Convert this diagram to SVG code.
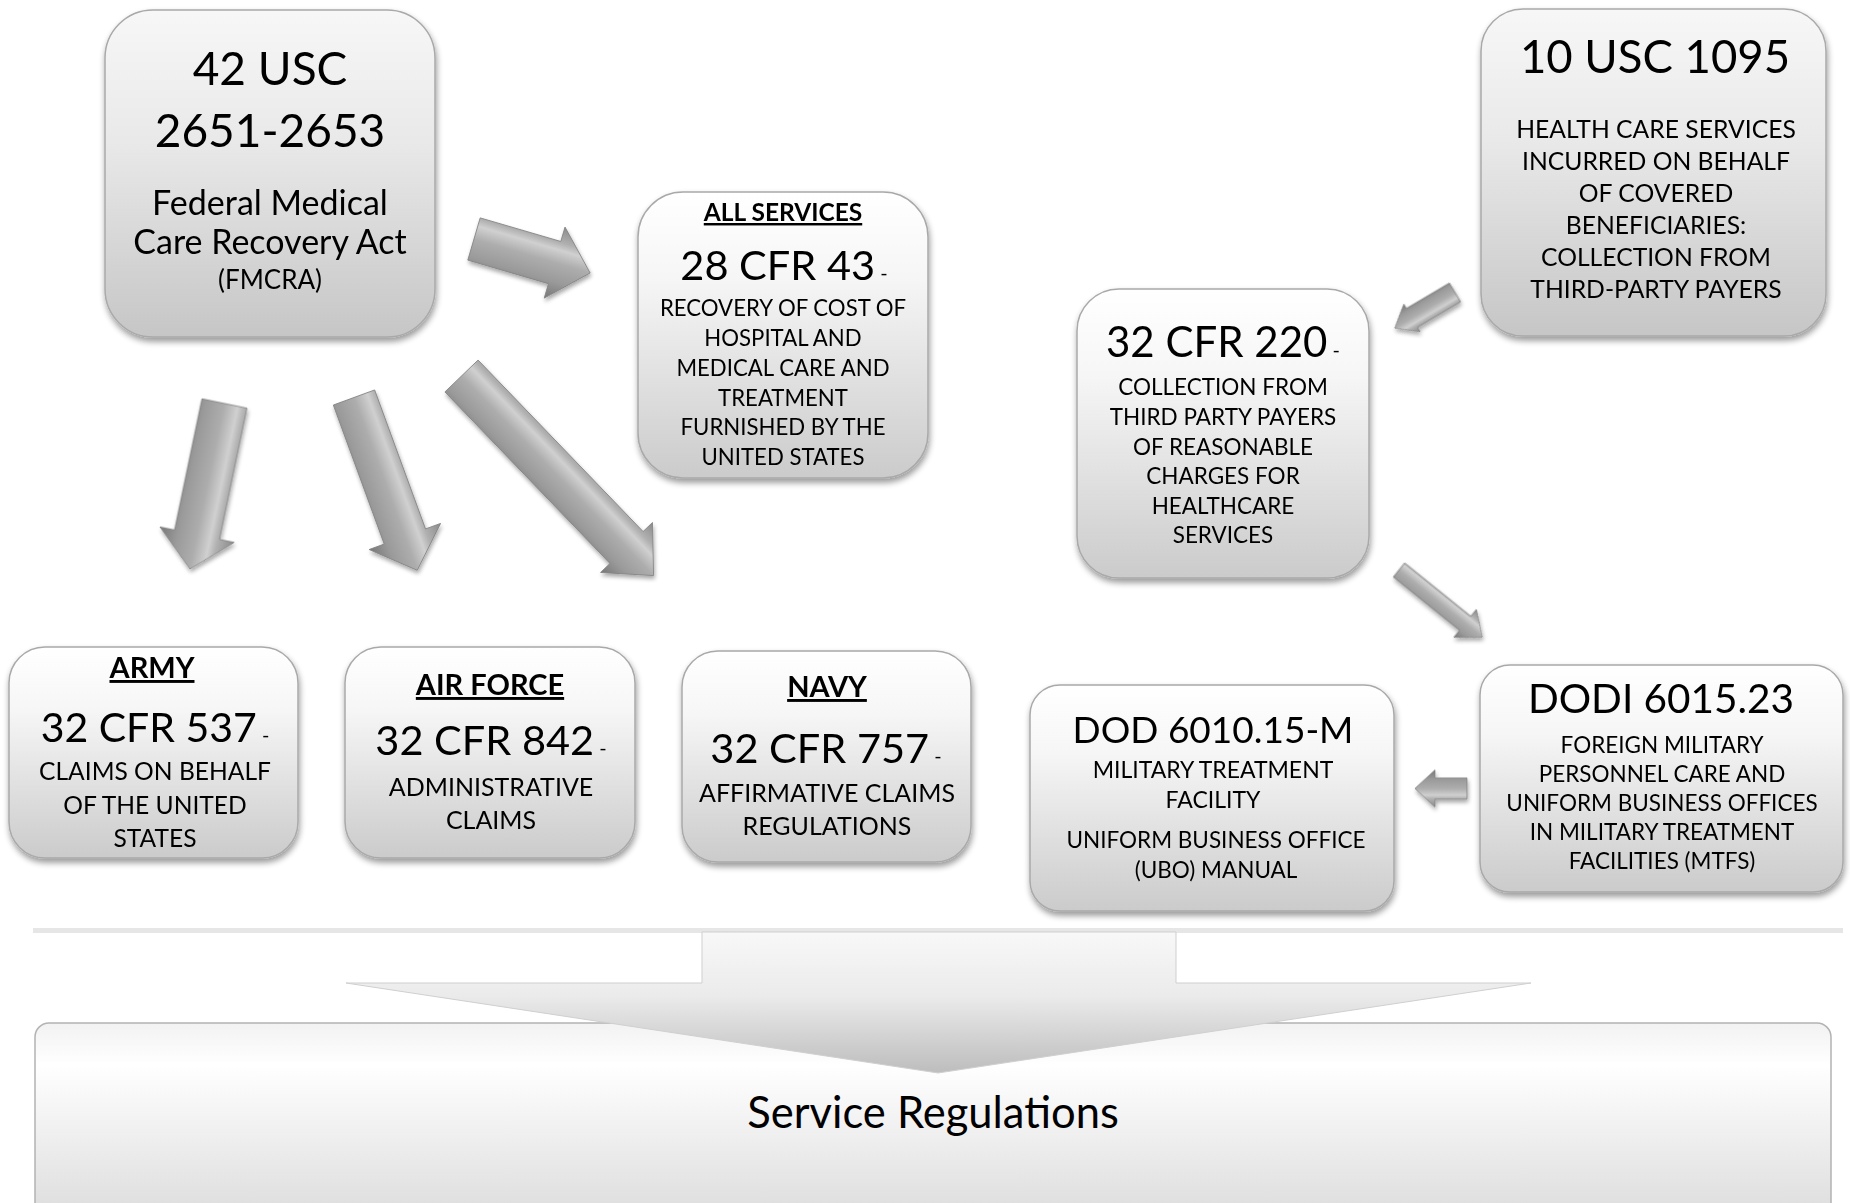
<svg xmlns="http://www.w3.org/2000/svg" width="1850" height="1203" viewBox="0 0 1850 1203">
<defs>
<linearGradient id="boxg" x1="0" y1="0" x2="0" y2="1">
<stop offset="0" stop-color="#ffffff"/>
<stop offset="0.3" stop-color="#f6f6f6"/>
<stop offset="1" stop-color="#cbcbcb"/>
</linearGradient>
<linearGradient id="boxg2" x1="0" y1="0" x2="0" y2="1">
<stop offset="0" stop-color="#f7f7f7"/>
<stop offset="0.4" stop-color="#e9e9e9"/>
<stop offset="1" stop-color="#c6c6c6"/>
</linearGradient>
<linearGradient id="arrg" x1="0" y1="0" x2="0" y2="1">
<stop offset="0" stop-color="#8a8a8a"/>
<stop offset="0.22" stop-color="#b0b0b0"/>
<stop offset="0.32" stop-color="#d0d0d0"/>
<stop offset="0.5" stop-color="#adadad"/>
<stop offset="0.75" stop-color="#9a9a9a"/>
<stop offset="1" stop-color="#777777"/>
</linearGradient>
<linearGradient id="bigg" x1="0" y1="0" x2="0" y2="1">
<stop offset="0" stop-color="#f8f8f8"/>
<stop offset="0.45" stop-color="#ebebeb"/>
<stop offset="1" stop-color="#bdbdbd"/>
</linearGradient>
<linearGradient id="baseg" x1="0" y1="0" x2="0" y2="1">
<stop offset="0" stop-color="#f2f2f2"/>
<stop offset="0.2" stop-color="#ffffff"/>
<stop offset="1" stop-color="#d9d9d9"/>
</linearGradient>
<filter id="sh" x="-10%" y="-10%" width="125%" height="130%">
<feGaussianBlur in="SourceAlpha" stdDeviation="3"/>
<feOffset dx="1" dy="4" result="o"/>
<feComponentTransfer><feFuncA type="linear" slope="0.4"/></feComponentTransfer>
<feMerge><feMergeNode/><feMergeNode in="SourceGraphic"/></feMerge>
</filter>
<filter id="ash" x="-20%" y="-20%" width="140%" height="140%">
<feGaussianBlur in="SourceAlpha" stdDeviation="2"/>
<feOffset dx="1" dy="3" result="o"/>
<feComponentTransfer><feFuncA type="linear" slope="0.35"/></feComponentTransfer>
<feMerge><feMergeNode/><feMergeNode in="SourceGraphic"/></feMerge>
</filter>
</defs>
<style>
text { font-family: "Lato", "Liberation Sans", sans-serif; fill: #000; text-anchor: middle; }
.box { fill: url(#boxg); stroke: #a9a9a9; stroke-width: 1.5; filter: url(#sh); }
.box2 { fill: url(#boxg2); stroke: #a9a9a9; stroke-width: 1.5; filter: url(#sh); }
.arr { fill: url(#arrg); stroke: #838383; stroke-width: 0.8; stroke-linejoin: round; }
.hd { font-weight: bold; text-decoration: underline; }
</style>

<rect x="33" y="928" width="1810" height="5" fill="#e6e6e6"/>

<g id="node-service-regulations">
<rect x="35" y="1023" width="1796" height="210" rx="14" fill="url(#baseg)" stroke="#b3b3b3" stroke-width="1.5"/>
</g>

<g id="connectors">
<g filter="url(#ash)">
<g transform="translate(474,239) rotate(16.3)"><polygon class="arr" points="0,-22 84,-22 84,-37 121,0 84,37 84,22 0,22"/></g>
<g transform="translate(224.5,403.5) rotate(101.8)"><polygon class="arr" points="0,-23 134,-23 134,-38 169,0 134,38 134,23 0,23"/></g>
<g transform="translate(354,397.5) rotate(69.9)"><polygon class="arr" points="0,-22 148,-22 148,-38 184,0 148,38 148,22 0,22"/></g>
<g transform="translate(461.5,376) rotate(46.1)"><polygon class="arr" points="0,-23 238,-23 238,-36 277,0 238,36 238,23 0,23"/></g>
<g transform="translate(1455,292.5) rotate(149.4)"><polygon class="arr" points="0,-11 50,-11 50,-16 70,0 50,16 50,11 0,11"/></g>
<g transform="translate(1399,570) rotate(38.9)"><polygon class="arr" points="0,-9 85,-9 85,-18 107,0 85,18 85,9 0,9"/></g>
<g transform="translate(1467,788.5) rotate(180)"><polygon class="arr" points="0,-10.5 32,-10.5 32,-18.5 52,0 32,18.5 32,10.5 0,10.5"/></g>
</g>
<polygon points="702,932 1176,932 1176,983 1531,983 938,1073 346,983 702,983" fill="url(#bigg)" stroke="#cfcfcf" stroke-width="1"/>
</g>

<text x="933" y="1128" font-size="43.5">Service Regulations</text>

<g id="node-42usc">
<rect class="box2" x="105" y="10" width="330" height="327" rx="48"/>
<text x="270" y="85" font-size="46">42 USC</text>
<text x="270" y="147" font-size="46">2651-2653</text>
<text x="270" y="215" font-size="34">Federal Medical</text>
<text x="270" y="254" font-size="34">Care Recovery Act</text>
<text x="270" y="289" font-size="26">(FMCRA)</text>
</g>

<g id="node-all-services">
<rect class="box" x="638" y="192" width="290" height="286" rx="45"/>
<text class="hd" x="783" y="221" font-size="24.5">ALL SERVICES</text>
<text x="784" y="280" font-size="41.5">28 CFR 43<tspan font-size="20"> -</tspan></text>
<text x="783" y="316" font-size="22.2">RECOVERY OF COST OF</text>
<text x="783" y="346" font-size="22.2">HOSPITAL AND</text>
<text x="783" y="376" font-size="22.2">MEDICAL CARE AND</text>
<text x="783" y="406" font-size="22.2">TREATMENT</text>
<text x="783" y="435" font-size="22.2">FURNISHED BY THE</text>
<text x="783" y="465" font-size="22.2">UNITED STATES</text>
</g>

<g id="node-10usc1095">
<rect class="box2" x="1481" y="9" width="345" height="327" rx="42"/>
<text x="1655" y="73" font-size="45.5">10 USC 1095</text>
<text x="1656" y="138" font-size="24.7">HEALTH CARE SERVICES</text>
<text x="1656" y="170" font-size="24.7">INCURRED ON BEHALF</text>
<text x="1656" y="202" font-size="24.7">OF COVERED</text>
<text x="1656" y="234" font-size="24.7">BENEFICIARIES:</text>
<text x="1656" y="266" font-size="24.7">COLLECTION FROM</text>
<text x="1656" y="298" font-size="24.7">THIRD-PARTY PAYERS</text>
</g>

<g id="node-32cfr220">
<rect class="box" x="1077" y="289" width="292" height="289" rx="42"/>
<text x="1223" y="357" font-size="42">32 CFR 220<tspan font-size="20"> -</tspan></text>
<text x="1223" y="395" font-size="22.5">COLLECTION FROM</text>
<text x="1223" y="425" font-size="22.5">THIRD PARTY PAYERS</text>
<text x="1223" y="455" font-size="22.5">OF REASONABLE</text>
<text x="1223" y="484" font-size="22.5">CHARGES FOR</text>
<text x="1223" y="514" font-size="22.5">HEALTHCARE</text>
<text x="1223" y="543" font-size="22.5">SERVICES</text>
</g>

<g id="node-army">
<rect class="box" x="9" y="647" width="289" height="211" rx="36"/>
<text class="hd" x="152" y="678" font-size="29">ARMY</text>
<text x="155" y="742" font-size="41">32 CFR 537<tspan font-size="20"> -</tspan></text>
<text x="155" y="780" font-size="24.6">CLAIMS ON BEHALF</text>
<text x="155" y="814" font-size="24.6">OF THE UNITED</text>
<text x="155" y="847" font-size="24.6">STATES</text>
</g>

<g id="node-air-force">
<rect class="box" x="345" y="647" width="290" height="211" rx="36"/>
<text class="hd" x="490" y="695" font-size="29">AIR FORCE</text>
<text x="491" y="755" font-size="41.5">32 CFR 842<tspan font-size="20"> -</tspan></text>
<text x="491" y="796" font-size="25">ADMINISTRATIVE</text>
<text x="491" y="829" font-size="25">CLAIMS</text>
</g>

<g id="node-navy">
<rect class="box" x="682" y="651" width="289" height="211" rx="36"/>
<text class="hd" x="827" y="697" font-size="29">NAVY</text>
<text x="826" y="763" font-size="41.5">32 CFR 757<tspan font-size="20"> -</tspan></text>
<text x="827" y="802" font-size="25">AFFIRMATIVE CLAIMS</text>
<text x="827" y="835" font-size="25">REGULATIONS</text>
</g>

<g id="node-dod6010">
<rect class="box" x="1030" y="685" width="364" height="226" rx="30"/>
<text x="1213" y="743" font-size="37">DOD 6010.15-M</text>
<text x="1213" y="778" font-size="23">MILITARY TREATMENT</text>
<text x="1213" y="808" font-size="23">FACILITY</text>
<text x="1216" y="848" font-size="22.5">UNIFORM BUSINESS OFFICE</text>
<text x="1216" y="878" font-size="22.5">(UBO) MANUAL</text>
</g>

<g id="node-dodi6015">
<rect class="box" x="1480" y="665" width="363" height="227" rx="30"/>
<text x="1661" y="713" font-size="40.5">DODI 6015.23</text>
<text x="1662" y="753" font-size="22.5">FOREIGN MILITARY</text>
<text x="1662" y="782" font-size="22.5">PERSONNEL CARE AND</text>
<text x="1662" y="811" font-size="22.5">UNIFORM BUSINESS OFFICES</text>
<text x="1662" y="840" font-size="22.5">IN MILITARY TREATMENT</text>
<text x="1662" y="869" font-size="22.5">FACILITIES (MTFS)</text>
</g>
</svg>
